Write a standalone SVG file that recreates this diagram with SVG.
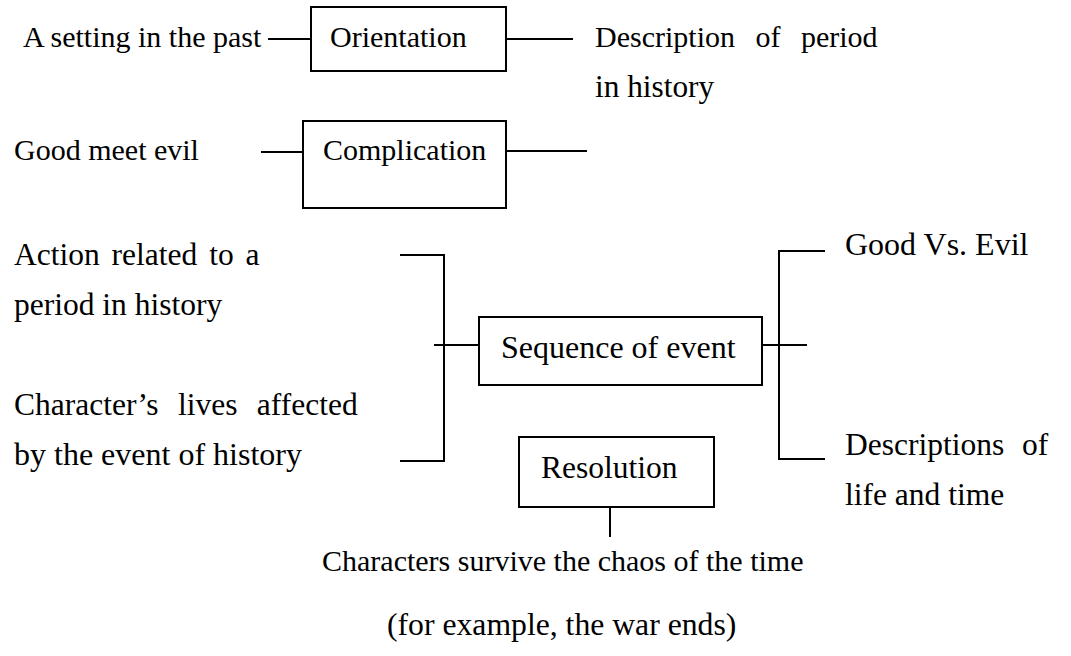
<svg xmlns="http://www.w3.org/2000/svg" width="1071" height="656" viewBox="0 0 1071 656">
<rect width="1071" height="656" fill="#fff"/>
<g id="connectors" fill="none" stroke="#000" stroke-width="2">
<line x1="268" y1="39" x2="311" y2="39"/>
<line x1="506" y1="39" x2="573" y2="39"/>
<line x1="261" y1="152" x2="303" y2="152"/>
<line x1="506" y1="151" x2="587" y2="151"/>
<polyline points="400,255 444,255 444,461 400,461"/>
<line x1="434" y1="345" x2="479" y2="345"/>
<polyline points="825,251 779,251 779,459 825,459"/>
<line x1="762" y1="345" x2="807" y2="345"/>
<line x1="610" y1="489" x2="610" y2="537"/>
</g>
<g id="orientation">
<rect x="311" y="7" width="195" height="64" fill="#fff" stroke="#000" stroke-width="2"/>
<text x="330" y="47" font-family="Liberation Serif" font-size="30">Orientation</text>
</g>
<g id="complication">
<rect x="303" y="121" width="203" height="87" fill="#fff" stroke="#000" stroke-width="2"/>
<text x="323" y="160" font-family="Liberation Serif" font-size="30">Complication</text>
</g>
<g id="sequence">
<rect x="479" y="317" width="283" height="68" fill="#fff" stroke="#000" stroke-width="2"/>
<text x="501" y="358" font-family="Liberation Serif" font-size="32">Sequence of event</text>
</g>
<g id="resolution">
<rect x="519" y="437" width="195" height="70" fill="#fff" stroke="#000" stroke-width="2"/>
<text x="541" y="478" font-family="Liberation Serif" font-size="31.5">Resolution</text>
</g>
<g id="labels">
<text x="23" y="47" font-family="Liberation Serif" font-size="30">A setting in the past</text>
<text x="595" y="47" font-family="Liberation Serif" font-size="30" word-spacing="13">Description of period</text>
<text x="595" y="97" font-family="Liberation Serif" font-size="31.3">in history</text>
<text x="14" y="160" font-family="Liberation Serif" font-size="30">Good meet evil</text>
<text x="14" y="265" font-family="Liberation Serif" font-size="31.5" word-spacing="4">Action related to a</text>
<text x="14" y="315" font-family="Liberation Serif" font-size="31.5">period in history</text>
<text x="14" y="415" font-family="Liberation Serif" font-size="31.5" word-spacing="11.5">Character&#8217;s lives affected</text>
<text x="14" y="465" font-family="Liberation Serif" font-size="32">by the event of history</text>
<text x="845" y="255" font-family="Liberation Serif" font-size="32">Good Vs. Evil</text>
<text x="845" y="455" font-family="Liberation Serif" font-size="31.5" word-spacing="10">Descriptions of</text>
<text x="845" y="505" font-family="Liberation Serif" font-size="31.5">life and time</text>
<text x="322" y="571" font-family="Liberation Serif" font-size="30">Characters survive the chaos of the time</text>
<text x="387" y="635" font-family="Liberation Serif" font-size="31.7">(for example, the war ends)</text>
</g>
</svg>
